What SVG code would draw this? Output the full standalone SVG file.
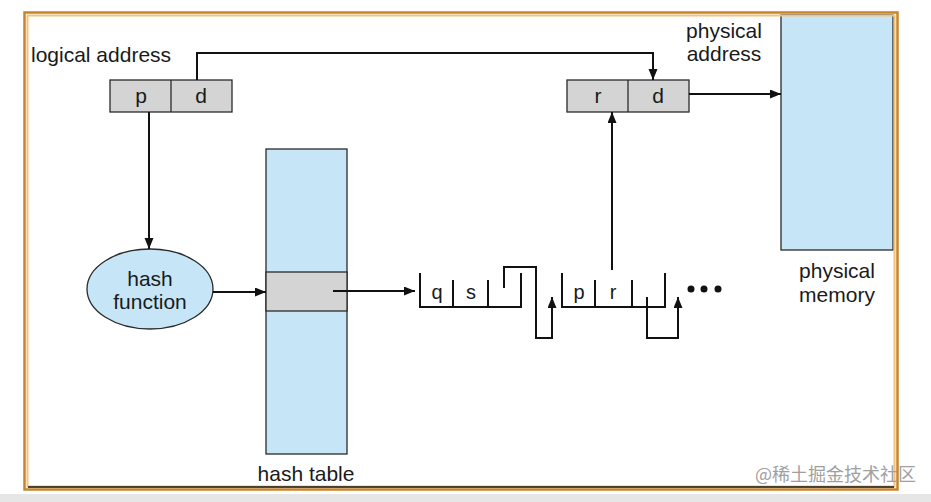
<svg xmlns="http://www.w3.org/2000/svg" width="931" height="502" viewBox="0 0 931 502">
<style>
  text { font-family: "Liberation Sans", Arial, sans-serif; fill: #1a1a1a; }
  .lbl { font-size: 21px; }
  .cell { font-size: 21px; text-anchor: middle; }
  .small { font-size: 20px; text-anchor: middle; }
  .box { fill: #d4d4d4; stroke: #2a2a2a; stroke-width: 1.3; }
  .blue { fill: #c6e6f8; stroke: #2a2a2a; stroke-width: 1.3; }
  .wire { fill: none; stroke: #111; stroke-width: 2; }
  .arr { fill: none; stroke: #111; stroke-width: 2; marker-end: url(#ah); }
</style>
<defs>
  <marker id="ah" markerUnits="userSpaceOnUse" markerWidth="12" markerHeight="10" refX="11" refY="4.5" orient="auto">
    <path d="M0,0 L11,4.5 L0,9 z" fill="#111"/>
  </marker>
</defs>
<rect x="0" y="0" width="931" height="502" fill="#ffffff"/>
<rect x="0" y="494" width="931" height="8" fill="#e6e6e6"/>

<g id="physical-memory">
  <rect x="781" y="15" width="112" height="235" class="blue"/>
  <text class="lbl" x="837" y="278" text-anchor="middle">physical</text>
  <text class="lbl" x="837" y="302" text-anchor="middle">memory</text>
</g>

<!-- frame -->
<g id="frame">
  <rect x="24.5" y="12.5" width="873" height="477" fill="none" stroke="#c8842c" stroke-width="2.5"/>
  <rect x="27.5" y="15.5" width="867" height="471" fill="none" stroke="#f2c27e" stroke-width="2"/>
  <line x1="28" y1="487" x2="894" y2="487" stroke="#111" stroke-width="1.5"/>
</g>

<g id="logical-address">
  <text class="lbl" x="31" y="62">logical address</text>
  <rect x="110" y="80" width="122" height="32" class="box"/>
  <line x1="171" y1="80" x2="171" y2="112" stroke="#2a2a2a" stroke-width="1.3"/>
  <text class="cell" x="141" y="103">p</text>
  <text class="cell" x="201" y="103">d</text>
</g>

<g id="physical-address">
  <text class="lbl" x="724" y="38" text-anchor="middle">physical</text>
  <text class="lbl" x="724" y="61" text-anchor="middle">address</text>
  <rect x="567" y="80" width="122" height="32" class="box"/>
  <line x1="628" y1="80" x2="628" y2="112" stroke="#2a2a2a" stroke-width="1.3"/>
  <text class="cell" x="598" y="103">r</text>
  <text class="cell" x="658" y="103">d</text>
</g>

<g id="hash-function">
  <ellipse cx="150" cy="289" rx="63" ry="40" class="blue"/>
  <text class="cell" x="150" y="286">hash</text>
  <text class="cell" x="150" y="309">function</text>
</g>

<g id="hash-table">
  <rect x="266" y="149" width="81" height="305" class="blue"/>
  <rect x="266" y="272" width="81" height="39" class="box"/>
  <text class="lbl" x="306" y="481" text-anchor="middle">hash table</text>
</g>

<g id="entry-qs">
  <path class="wire" d="M420,273 V307 H521 V273"/>
  <path class="wire" d="M453,280 V307 M488,280 V307"/>
  <text class="small" x="437" y="299">q</text>
  <text class="small" x="471" y="299">s</text>
</g>

<g id="entry-pr">
  <path class="wire" d="M562,273 V307 H665 V273"/>
  <path class="wire" d="M595,280 V307 M632,280 V307"/>
  <text class="small" x="579" y="299">p</text>
  <text class="small" x="613" y="299">r</text>
</g>

<g id="more">
  <circle cx="691" cy="289" r="3.5" fill="#111"/>
  <circle cx="704" cy="289" r="3.5" fill="#111"/>
  <circle cx="718" cy="289" r="3.5" fill="#111"/>
</g>

<g id="connectors">
  <path class="arr" d="M197,80 V53 H653 V80"/>
  <path class="arr" d="M689,94 H781"/>
  <path class="arr" d="M149,112 V249"/>
  <path class="arr" d="M213,292 H266"/>
  <path class="arr" d="M333,291 H415"/>
  <path class="arr" d="M612,270 V112"/>
  <path class="arr" d="M504,288 V267 H536 V338 H552 V297"/>
  <path class="arr" d="M647,297 V338 H678 V297"/>
</g>

<text x="916" y="481" text-anchor="end" style="font-family:'Noto Sans CJK SC','Liberation Sans',sans-serif;font-size:18px;fill:#a0a0a0">@稀土掘金技术社区</text>
</svg>
